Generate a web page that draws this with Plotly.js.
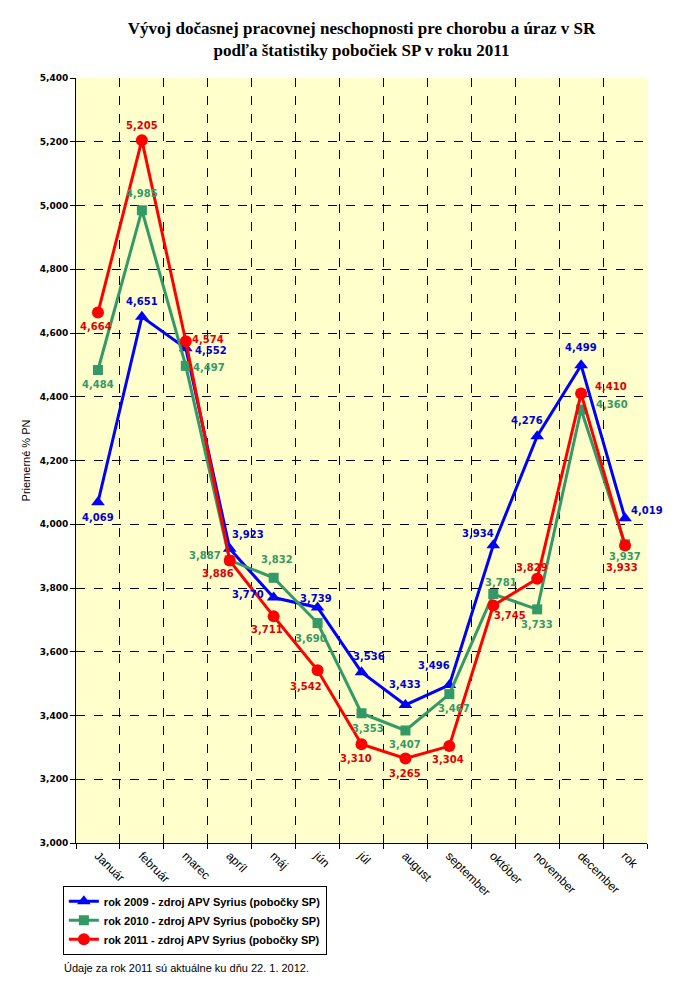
<!DOCTYPE html>
<html>
<head>
<meta charset="utf-8">
<script src="https://cdn.plot.ly/plotly-3.0.1.min.js"></script>
<style>html,body{margin:0;padding:0;background:#fff;}#chart{width:679px;height:989px;}</style>
</head>
<body>
<div id="chart"></div>
<script>
const categories = ["Január","február","marec","apríl","máj","jún","júl","august","september","október","november","december","rok"];
const values2009 = [4.069,4.651,4.552,3.923,3.770,3.739,3.536,3.433,3.496,3.934,4.276,4.499,4.019];
const values2010 = [4.484,4.985,4.497,3.887,3.832,3.690,3.407,3.353,3.467,3.781,3.733,4.360,3.937];
const values2011 = [4.664,5.205,4.574,3.886,3.711,3.542,3.310,3.265,3.304,3.745,3.829,4.410,3.933];
// data labels as printed in the source chart (júl/august labels of 2010 appear swapped there)
const labels2010 = ["4,484","4,985","4,497","3,887","3,832","3,690","3,353","3,407","3,467","3,781","3,733","4,360","3,937"];
const seriesNames = ["rok 2009 - zdroj APV Syrius (pobočky SP)","rok 2010 - zdroj APV Syrius (pobočky SP)","rok 2011 - zdroj APV Syrius (pobočky SP)"];

const fmt = v => v.toFixed(3).replace('.', ',');

// label placement offsets (pixels, [dx, dy] with dy downward) — styling only
const off2009 = [[0,15],[0,-15],[25,2],[18,-14],[-26,-3],[-2,-9],[7,-16],[0,-20],[-15,-19],[-15,-12],[-10,-16],[0,-18],[22,-8]];
const off2010 = [[0,15],[0,-17],[23,2],[-25,-5],[3,-18],[-7,15],[6,15],[0,14],[5,14],[8,-12],[0,15],[31,-5],[0,12]];
const off2011 = [[-2,14],[0,-15],[22,-2],[-12,13],[-7,13],[-12,16],[-6,14],[0,15],[-1,13],[17,10],[-5,-11],[30,-7],[-3,22]];

const colors = {b: '#0000FF', g: '#339966', r: '#FF0000'};
const labelColors = {b: '#0000CC', g: '#339966', r: '#E00000'};

const traces = [
  {
    x: categories, y: values2009, name: seriesNames[0], type: 'scatter', mode: 'lines+markers',
    line: {color: colors.b, width: 3},
    marker: {symbol: 'triangle-up', size: 12, color: colors.b}
  },
  {
    x: categories, y: values2010, name: seriesNames[1], type: 'scatter', mode: 'lines+markers',
    line: {color: colors.g, width: 3},
    marker: {symbol: 'square', size: 10, color: colors.g}
  },
  {
    x: categories, y: values2011, name: seriesNames[2], type: 'scatter', mode: 'lines+markers',
    line: {color: colors.r, width: 3},
    marker: {symbol: 'circle', size: 12, color: colors.r}
  }
];

function labelAnnotations(vals, texts, offs, color) {
  return vals.map((v, i) => ({
    x: categories[i], y: v, xref: 'x', yref: 'y', text: texts[i],
    showarrow: false, xanchor: 'center', yanchor: 'middle',
    xshift: offs[i][0], yshift: -offs[i][1],
    font: {family: 'DejaVu Sans', size: 10, color: color, weight: 'bold'}
  }));
}

const annotations = [].concat(
  labelAnnotations(values2009, values2009.map(fmt), off2009, labelColors.b),
  labelAnnotations(values2010, labels2010, off2010, labelColors.g),
  labelAnnotations(values2011, values2011.map(fmt), off2011, labelColors.r),
  [{
    text: 'Údaje za rok 2011 sú aktuálne ku dňu 22. 1. 2012.',
    xref: 'paper', yref: 'paper', x: -0.025, y: -0.163, xanchor: 'left', yanchor: 'middle',
    showarrow: false, font: {family: 'Liberation Sans', size: 11, color: '#000'}
  }]
);

const layout = {
  width: 679, height: 989,
  paper_bgcolor: '#FFFFFF', plot_bgcolor: '#FFFFCC',
  separators: ',.',
  margin: {l: 76, r: 32, t: 78, b: 146},
  showlegend: true,
  title: {
    text: 'Vývoj dočasnej pracovnej neschopnosti pre chorobu a úraz v SR<br>podľa štatistiky pobočiek SP v roku 2011',
    font: {family: 'Liberation Serif', size: 17, color: '#000', weight: 'bold'},
    x: 0.5, xref: 'paper', y: 0.966, yref: 'container', yanchor: 'middle'
  },
  xaxis: {
    type: 'category', tickson: 'boundaries',
    showgrid: true, gridcolor: '#000', griddash: 'dash', gridwidth: 1,
    showline: true, linecolor: '#000', linewidth: 1,
    ticks: 'outside', ticklen: 5, tickcolor: '#000',
    tickangle: 45, tickfont: {family: 'Liberation Sans', size: 12, color: '#000'},
    range: [-0.5, 12.5], fixedrange: true, zeroline: false
  },
  yaxis: {
    range: [3.0, 5.4], dtick: 0.2, tick0: 3.0, tickformat: '.3f',
    showgrid: true, gridcolor: '#000', griddash: 'dash', gridwidth: 1,
    showline: true, linecolor: '#000', linewidth: 1,
    ticks: 'outside', ticklen: 5, tickcolor: '#000',
    tickfont: {family: 'DejaVu Sans', size: 9, color: '#000', weight: 'bold'},
    title: {text: 'Priemerné % PN', font: {family: 'Liberation Sans', size: 11, color: '#000'}, standoff: 6},
    zeroline: false, fixedrange: true
  },
  legend: {
    x: -0.023, y: -0.056, xanchor: 'left', yanchor: 'top',
    bgcolor: '#FFFFFF', bordercolor: '#000', borderwidth: 1,
    font: {family: 'Liberation Sans', size: 11, color: '#000', weight: 'bold'},
    tracegroupgap: 0, itemwidth: 30
  },
  annotations: annotations
};

Plotly.newPlot('chart', traces, layout, {displayModeBar: false, staticPlot: true});
</script>
</body>
</html>
